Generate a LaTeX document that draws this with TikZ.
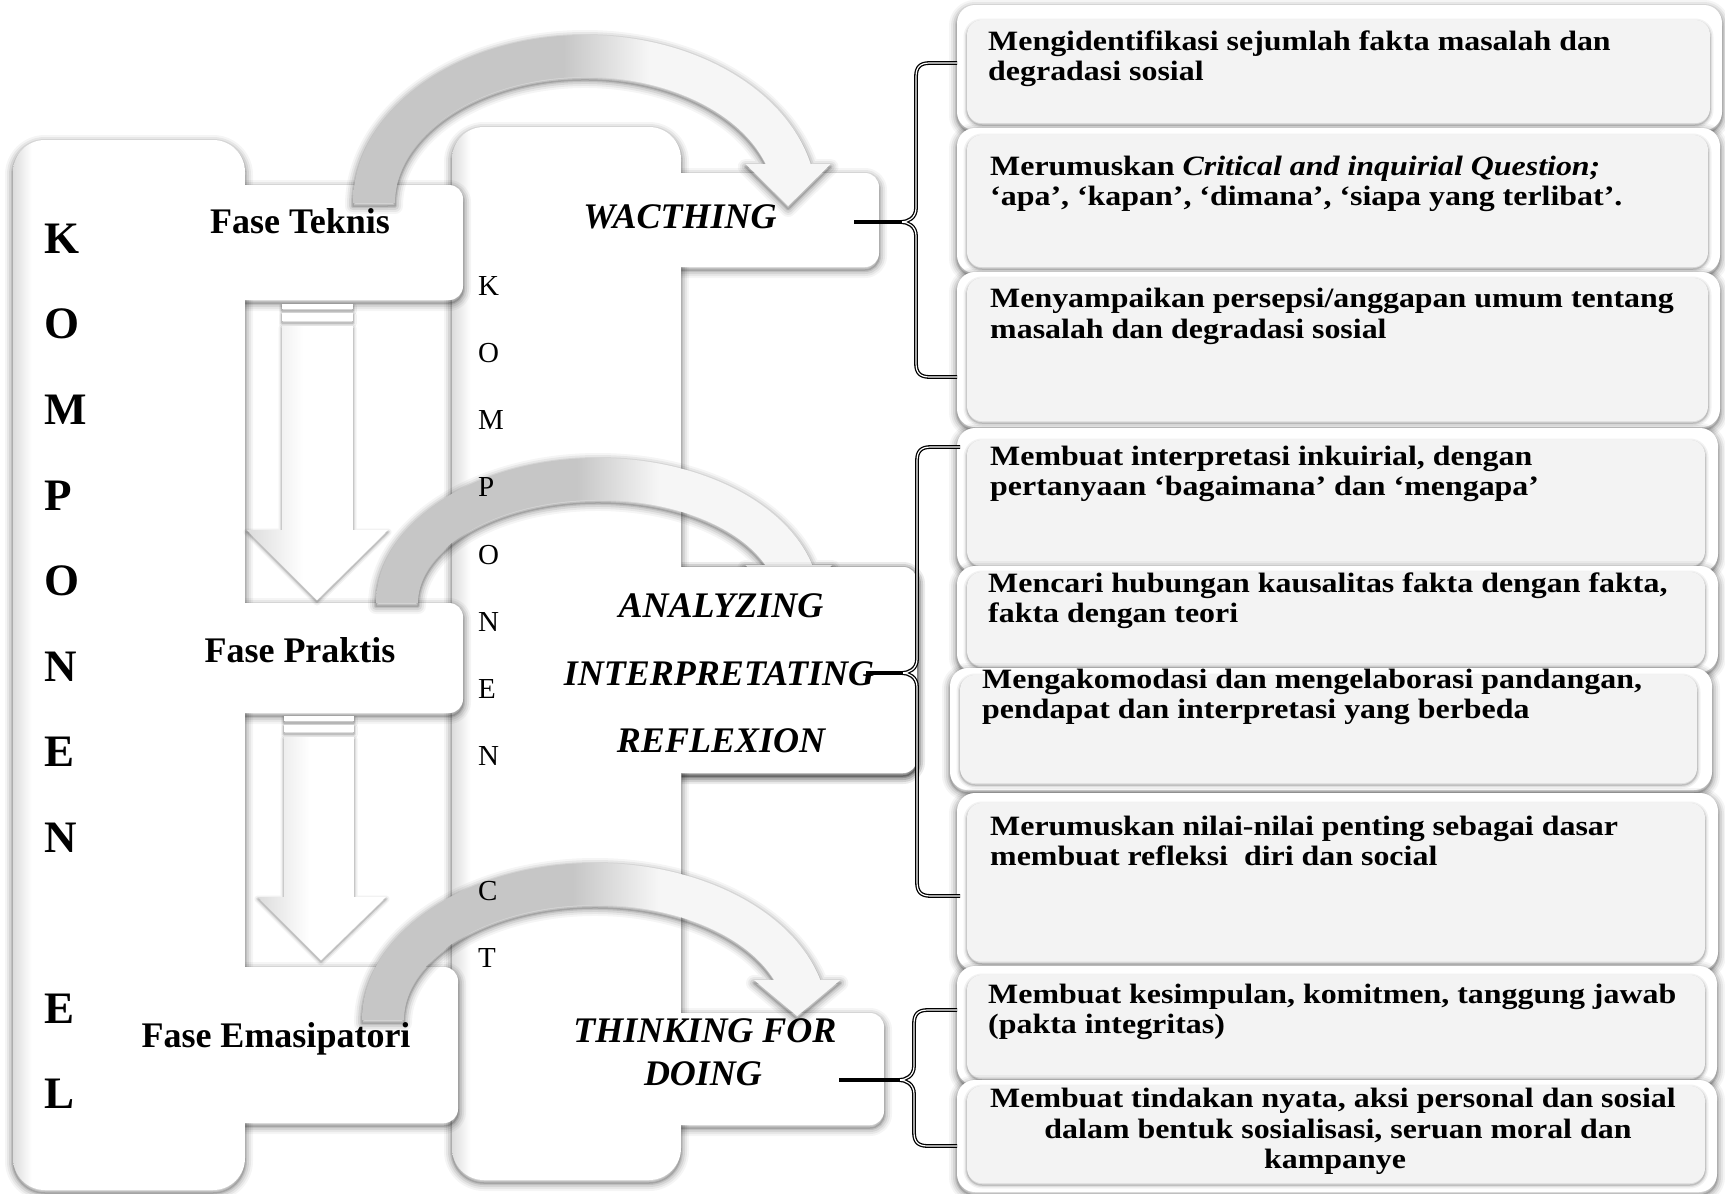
\documentclass[tikz,border=0pt]{standalone}
\usepackage{fontspec}
\setmainfont{Liberation Serif}
\newfontfamily\rfont[FakeStretch=1.14]{Liberation Serif}
\definecolor{arcgray}{HTML}{C6C6C6}
\definecolor{arcwhite}{HTML}{F6F6F6}
\definecolor{panel}{HTML}{F3F3F3}
\definecolor{edgegray}{HTML}{DCDCDC}
\pgfdeclarehorizontalshading{arcshade}{100bp}{color(0bp)=(arcgray); color(47bp)=(arcgray); color(56bp)=(arcwhite); color(100bp)=(arcwhite)}
\pgfdeclarehorizontalshading{edgeshade}{100bp}{color(0bp)=(edgegray); color(25bp)=(edgegray); color(29bp)=(white); color(100bp)=(white)}
\pgfdeclarehorizontalshading{arrowshade}{100bp}{color(0bp)=(edgegray); color(25bp)=(edgegray); color(45bp)=(white); color(100bp)=(white)}
\newcommand\softshadow[1]{\foreach \lw/\op in {16/0.04,12/0.055,8/0.075,4/0.1,1.5/0.14}{\draw[black,opacity=\op,line width=\lw,line join=round,yshift=-3pt] #1;}}
\newcommand\thinshadow[1]{\foreach \lw/\op in {7/0.05,4/0.08,1.5/0.14}{\draw[black,opacity=\op,line width=\lw,line join=round,yshift=-2pt] #1;}}
% band arrow: xc yc rx ry yend headdepth
\newcommand\defband[6]{%
  \pgfmathsetmacro\Rox{#3+21}\pgfmathsetmacro\Roy{#4+21}%
  \pgfmathsetmacro\Rix{#3-21}\pgfmathsetmacro\Riy{#4-21}%
  \pgfmathsetmacro\tho{asin((#2-#5)/\Roy)}%
  \pgfmathsetmacro\thi{asin((#2-#5)/\Riy)}%
  \pgfmathsetmacro\bxo{#1+\Rox*cos(\tho)}%
  \pgfmathsetmacro\bxi{#1+\Rix*cos(\thi)}%
  \pgfmathsetmacro\bxm{(\bxo+\bxi)/2}%
  \pgfmathsetmacro\eo{360-\tho}\pgfmathsetmacro\ei{360-\thi}%
  \pgfmathsetmacro\xlo{#1-\Rox}%
  \def\bandp{(\xlo,#2) arc[start angle=180,end angle=\eo,x radius=\Rox,y radius=\Roy] -- (\bxo+20,#5) -- (\bxm,#5+#6) -- (\bxi-20,#5) -- (\bxi,#5) arc[start angle=\ei,end angle=180,x radius=\Rix,y radius=\Riy] -- cycle}}
\newcommand\rbox[8]{% outer x1 y1 x2 y2, inner x1 y1 x2 y2
  \softshadow{[rounded corners=18pt] (#1,#2) rectangle (#3,#4)}
  \fill[white,rounded corners=18pt] (#1,#2) rectangle (#3,#4);
  \thinshadow{[rounded corners=15pt] (#5,#6) rectangle (#7,#8)}
  \fill[panel,rounded corners=15pt] (#5,#6) rectangle (#7,#8);}
\tikzset{
  kletter/.style={font=\fontsize{45}{54}\selectfont\bfseries, anchor=base west, inner sep=0pt},
  cletter/.style={font=\fontsize{29}{34}\selectfont, anchor=base west, inner sep=0pt},
  ptext/.style={font=\fontsize{36}{40}\selectfont\bfseries, anchor=base, inner sep=0pt},
  ctext/.style={font=\fontsize{36}{40}\selectfont\bfseries\itshape, anchor=base, inner sep=0pt},
  rtext/.style={font=\rfont\fontsize{28}{31}\selectfont\bfseries, anchor=base west, inner sep=0pt},
  rtextc/.style={font=\rfont\fontsize{28}{31}\selectfont\bfseries, anchor=base, inner sep=0pt},
  bracestyle/.style={draw=black, line width=1.3pt, double=white, double distance=1.2pt},
  conn/.style={draw=black, line width=4.5pt},
}
\begin{document}
\begin{tikzpicture}[x=1pt,y=-1pt]
\useasboundingbox (0,0) rectangle (1725,1194);
\fill[white] (0,0) rectangle (1725,1194);
% ---- group 2: second tall box and component boxes
\softshadow{[rounded corners=32pt] (452,127) rectangle (681,1180)}
\softshadow{[rounded corners=14pt] (560,173) rectangle (879,267)}
\softshadow{[rounded corners=14pt] (560,567) rectangle (917,773)}
\softshadow{[rounded corners=14pt] (560,1013) rectangle (884,1125)}
\shade[shading=edgeshade, rounded corners=32pt] (452,127) rectangle (681,1180);
\fill[white, rounded corners=14pt] (560,173) rectangle (879,267);
\fill[white, rounded corners=14pt] (560,567) rectangle (917,773);
\fill[white, rounded corners=14pt] (560,1013) rectangle (884,1125);
% ---- group 1: left tall box and phase boxes
\softshadow{[rounded corners=32pt] (13,140) rectangle (245,1190)}
\softshadow{[rounded corners=14pt] (150,185) rectangle (463,300)}
\softshadow{[rounded corners=14pt] (150,603) rectangle (463,713)}
\softshadow{[rounded corners=14pt] (120,967) rectangle (458,1123)}
\shade[shading=edgeshade, rounded corners=32pt] (13,140) rectangle (245,1190);
\fill[white, rounded corners=14pt] (150,185) rectangle (463,300);
\fill[white, rounded corners=14pt] (150,603) rectangle (463,713);
\fill[white, rounded corners=14pt] (120,967) rectangle (458,1123);
% ---- down arrows
\def\arrowA{(282,326) -- (353,326) -- (353,530) -- (388,530) -- (317,600) -- (247,530) -- (282,530) -- cycle}
\thinshadow{\arrowA}
\thinshadow{(282,304) rectangle (353,309)}
\thinshadow{(282,313) rectangle (353,321)}
\shade[shading=arrowshade] \arrowA;
\fill[white] (282,304) rectangle (353,309);
\fill[white] (282,313) rectangle (353,321);
\def\arrowB{(284,737) -- (354,737) -- (354,897) -- (386,897) -- (321,960) -- (258,897) -- (284,897) -- cycle}
\thinshadow{\arrowB}
\thinshadow{(284,716) rectangle (354,721)}
\thinshadow{(284,725) rectangle (354,732)}
\shade[shading=arrowshade] \arrowB;
\fill[white] (284,716) rectangle (354,721);
\fill[white] (284,725) rectangle (354,732);
% ---- curved band arrows
\defband{585}{203}{211}{147}{164}{42}
\softshadow{\bandp}
\shade[shading=arcshade] \bandp;
\defband{598}{603}{201}{124}{565}{40}
\softshadow{\bandp}
\shade[shading=arcshade] \bandp;
% ANALYZING box lies over the end of the second band
\begin{scope}
\clip (682,480) rectangle (990,820);
\softshadow{[rounded corners=14pt] (560,567) rectangle (917,773)}
\fill[white, rounded corners=14pt] (560,567) rectangle (917,773);
\end{scope}
\defband{595}{1020}{212}{136}{980}{36}
\softshadow{\bandp}
\shade[shading=arcshade] \bandp;
% ---- right boxes
\rbox{957}{5}{1722}{130}{967}{20}{1710}{123}
\rbox{957}{128}{1720}{273}{967}{135}{1708}{267}
\rbox{957}{272}{1720}{427}{967}{278}{1708}{421}
\rbox{957}{428}{1718}{572}{967}{440}{1705}{566}
\rbox{957}{566}{1718}{672}{967}{572}{1705}{666}
\rbox{950}{668}{1712}{790}{960}{675}{1697}{783}
\rbox{957}{793}{1718}{970}{967}{803}{1705}{962}
\rbox{957}{966}{1717}{1085}{967}{975}{1705}{1078}
\rbox{957}{1080}{1717}{1192}{967}{1086}{1705}{1183}
% ---- braces and connectors
\draw[bracestyle] (957,63) -- (930,63) .. controls (920,63) and (916,67) .. (916,77) -- (916,208) .. controls (916,218) and (908,222) .. (901,222) .. controls (908,222) and (916,226) .. (916,236) -- (916,363) .. controls (916,373) and (920,377) .. (930,377) -- (957,377);
\draw[bracestyle] (960,447) -- (931,447) .. controls (921,447) and (917,451) .. (917,461) -- (917,659) .. controls (917,669) and (909,673) .. (902,673) .. controls (909,673) and (917,677) .. (917,687) -- (917,882) .. controls (917,892) and (921,896) .. (931,896) -- (960,896);
\draw[bracestyle] (957,1010) -- (928,1010) .. controls (918,1010) and (914,1014) .. (914,1024) -- (914,1066) .. controls (914,1076) and (906,1080) .. (899,1080) .. controls (906,1080) and (914,1084) .. (914,1094) -- (914,1132) .. controls (914,1142) and (918,1146) .. (928,1146) -- (957,1146);
\coordinate (c1) at (854,222); \coordinate (b1) at (902,222);
\coordinate (c2) at (866,673); \coordinate (b2) at (903,673);
\coordinate (c3) at (839,1080); \coordinate (b3) at (900,1080);
\draw[conn] (c1) -- (b1);
\draw[conn] (c2) -- (b2);
\draw[conn] (c3) -- (b3);
% ---- texts
\foreach \l/\y [count=\i] in {K/253,O/338.5,M/424,P/510,O/595,N/681,E/766,N/852,E/1023,L/1108}
  \node[kletter] (kl\i) at (44,\y) {\l};
\foreach \l/\y [count=\i] in {K/295,O/362,M/429,P/496,O/564,N/631,E/698,N/765,C/900,T/967}
  \node[cletter] (cl\i) at (478,\y) {\l};
\node[ptext] (fteknis) at (300,233) {Fase Teknis};
\node[ptext] (fpraktis) at (300,662) {Fase Praktis};
\node[ptext] (femas) at (276,1047) {Fase Emasipatori};
\node[ctext] (watch) at (680,228) {WACTHING};
\node[ctext] (anal) at (721,617) {ANALYZING};
\node[ctext] (interp) at (719,685) {INTERPRETATING};
\node[ctext] (refl) at (721,752) {REFLEXION};
\node[ctext] (think) at (705,1042) {THINKING FOR};
\node[ctext] (doing) at (703,1085) {DOING};
\node[rtext] (t1a) at (988,50) {Mengidentifikasi sejumlah fakta masalah dan};
\node[rtext] (t1b) at (988,80) {degradasi sosial};
\node[rtext] (t2a) at (990,175) {Merumuskan \textit{Critical and inquirial Question;}};
\node[rtext] (t2b) at (990,205) {‘apa’, ‘kapan’, ‘dimana’, ‘siapa yang terlibat’.};
\node[rtext] (t3a) at (990,307) {Menyampaikan persepsi/anggapan umum tentang};
\node[rtext] (t3b) at (990,338) {masalah dan degradasi sosial};
\node[rtext] (t4a) at (990,465) {Membuat interpretasi inkuirial, dengan};
\node[rtext] (t4b) at (990,495) {pertanyaan ‘bagaimana’ dan ‘mengapa’};
\node[rtext] (t5a) at (988,592) {Mencari hubungan kausalitas fakta dengan fakta,};
\node[rtext] (t5b) at (988,622) {fakta dengan teori};
\node[rtext] (t6a) at (982,688) {Mengakomodasi dan mengelaborasi pandangan,};
\node[rtext] (t6b) at (982,718) {pendapat dan interpretasi yang berbeda};
\node[rtext] (t7a) at (990,835) {Merumuskan nilai-nilai penting sebagai dasar};
\node[rtext] (t7b) at (990,865) {membuat refleksi\ \ diri dan social};
\node[rtext] (t8a) at (988,1003) {Membuat kesimpulan, komitmen, tanggung jawab};
\node[rtext] (t8b) at (988,1033) {(pakta integritas)};
\node[rtextc] (t9a) at (1333,1107) {Membuat tindakan nyata, aksi personal dan sosial};
\node[rtextc] (t9b) at (1338,1138) {dalam bentuk sosialisasi, seruan moral dan};
\node[rtextc] (t9c) at (1335,1168) {kampanye};
\end{tikzpicture}
\end{document}
